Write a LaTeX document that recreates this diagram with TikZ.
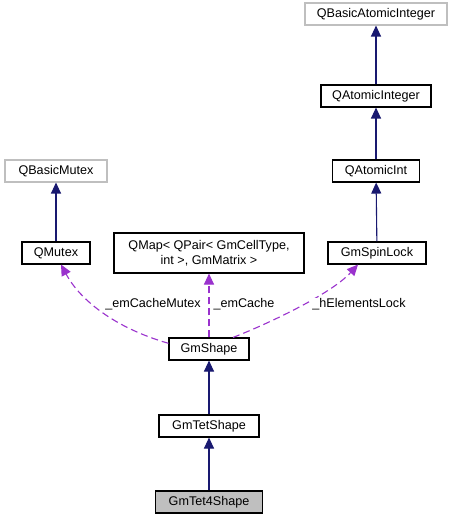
\documentclass[tikz,border=0pt]{standalone}
\usepackage{fontspec}
\setmainfont{Liberation Sans}
\usetikzlibrary{arrows.meta}
\definecolor{navyedge}{HTML}{191970}
\definecolor{purpedge}{HTML}{9A32CD}
\definecolor{greybd}{HTML}{BFBFBF}
\begin{document}
\begin{tikzpicture}[x=1pt,y=-1pt,
  font=\fontsize{12.6}{14.5}\selectfont,
  cls/.style={draw=black, fill=white, line width=1.1pt, inner sep=0pt, minimum height=22pt},
  ext/.style={cls, draw=greybd},
  cur/.style={cls, fill=greybd},
  inh/.style={draw=navyedge, line width=1.1pt, -{Triangle[length=11pt,width=10pt]}},
  use/.style={draw=purpedge, line width=1.1pt, dash pattern=on 7pt off 4pt, -{Triangle[length=11pt,width=10pt]}},
  lbl/.style={inner sep=0pt, fill=white}]
\useasboundingbox (0,0) rectangle (455,521);
\fill[white] (0,0) rectangle (455,521);
% nodes
\node[ext, minimum width=142pt] (qbai) at (376,14) {QBasicAtomicInteger};
\node[cls, minimum width=110pt] (qai) at (376,96) {QAtomicInteger};
\node[cls, minimum width=87pt] (qaint) at (376,171) {QAtomicInt};
\node[ext, minimum width=102pt] (qbm) at (56,171) {QBasicMutex};
\node[cls, minimum width=68pt] (qm) at (56,253) {QMutex};
\node[cls, minimum width=98pt] (gsl) at (377,253) {GmSpinLock};
\node[cls, minimum width=190pt, minimum height=40pt, align=center] (qmap) at (209,253) {QMap< QPair< GmCellType,\\int >, GmMatrix >};
\node[cls, minimum width=80pt] (gms) at (209,349) {GmShape};
\node[cls, minimum width=100pt] (gts) at (209,426) {GmTetShape};
\node[cur, minimum width=107pt] (gt4) at (209,502) {GmTet4Shape};
% inheritance
\draw[inh] (qai) -- (qbai);
\draw[inh] (qaint) -- (qai);
\draw[inh] (gsl) -- (qaint);
\draw[inh] (qm) -- (qbm);
\draw[inh] (gts) -- (gms);
\draw[inh] (gt4) -- (gts);
% usage
\draw[use] (gms.172) .. controls (115,328) and (80,300) .. ([xshift=5pt]qm.south);
\draw[use] (gms) -- (qmap);
\draw[use] ([xshift=24pt]gms.north) .. controls (265,325) and (330,295) .. ([xshift=-19pt]gsl.south);
% labels
\node[lbl] (l1) at (153,304) {\_emCacheMutex};
\node[lbl] (l2) at (244,304) {\_emCache};
\node[lbl] (l3) at (359,304) {\_hElementsLock};
\end{tikzpicture}
\end{document}
